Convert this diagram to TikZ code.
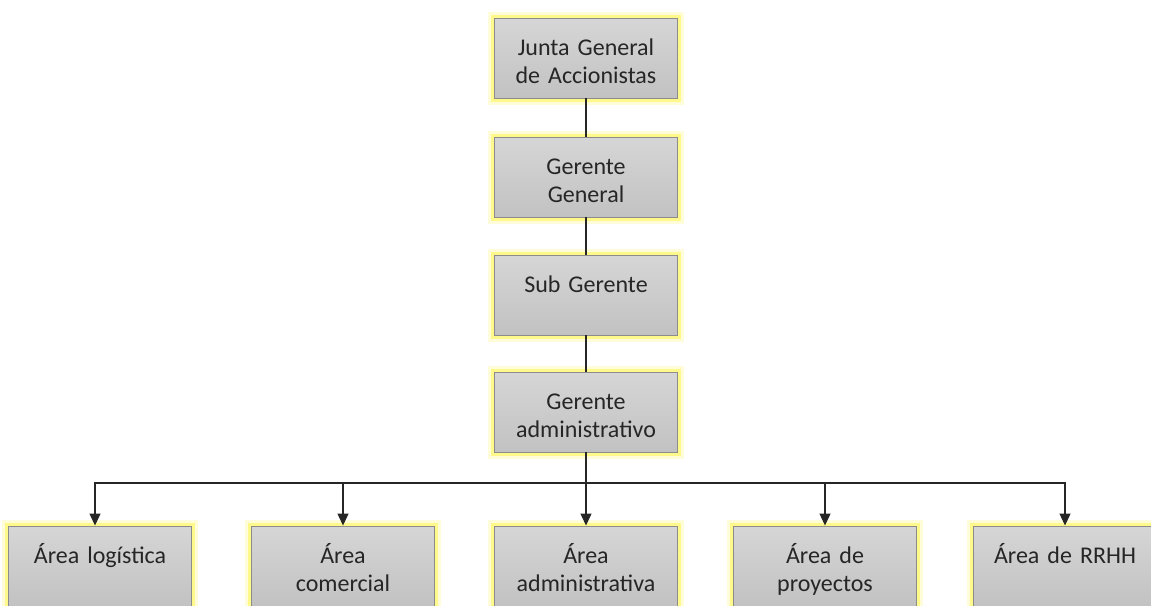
\documentclass[tikz,border=0pt]{standalone}
\usepackage{fontspec}
\setmainfont{Carlito}
\usepackage{tikz}
\usetikzlibrary{arrows.meta}
\usetikzlibrary{calc}

\definecolor{boxline}{HTML}{8C8C8C}
\definecolor{boxtop}{HTML}{D6D6D6}
\definecolor{boxbot}{HTML}{C2C2C2}
\definecolor{txtgray}{HTML}{262626}

\tikzset{
	orgbox/.style={draw=boxline, line width=0.9pt, top color=boxtop, bottom color=boxbot,
		minimum width=183pt, minimum height=80pt, inner sep=0pt,
		preaction={draw=yellow!15, line width=13pt},
		preaction={draw=yellow!45, line width=7pt}},
	lbl/.style={text width=180pt, align=center, anchor=base, inner sep=0pt, text=txtgray,
		font=\fontsize{24}{28}\selectfont},
	conn/.style={line width=1.1pt, black!85},
	arr/.style={conn, -{Triangle[width=11pt,length=12pt]}}
}

\begin{document}
\begin{tikzpicture}[x=1pt,y=-1pt]
		\useasboundingbox (0,0) rectangle (1151,605);
		
		% column of managers
		\node[orgbox] (junta) at (586,58) {};
		\node[orgbox] (gerente) at (586,177) {};
		\node[orgbox] (sub) at (586,295) {};
		\node[orgbox] (admin) at (586,412) {};
		
		\node[lbl] (juntaT) at ($(junta.north)+(0,38)$) {Junta General\\de Accionistas};
		\node[lbl] (gerenteT) at ($(gerente.north)+(0,38)$) {Gerente\\General};
		\node[lbl] (subT) at ($(sub.north)+(0,38)$) {Sub Gerente};
		\node[lbl] (adminT) at ($(admin.north)+(0,38)$) {Gerente\\administrativo};
		
		% areas
		\node[orgbox] (logis) at (100,566) {};
		\node[orgbox] (comer) at (343,566) {};
		\node[orgbox] (admarea) at (586,566) {};
		\node[orgbox] (proy) at (825,566) {};
		\node[orgbox] (rrhh) at (1065,566) {};
		
		\node[lbl] (logisT) at ($(logis.north)+(0,38)$) {Área logística};
		\node[lbl] (comerT) at ($(comer.north)+(0,38)$) {Área\\comercial};
		\node[lbl] (admareaT) at ($(admarea.north)+(0,38)$) {Área\\administrativa};
		\node[lbl] (proyT) at ($(proy.north)+(0,38)$) {Área de\\proyectos};
		\node[lbl] (rrhhT) at ($(rrhh.north)+(0,38)$) {Área de RRHH};
		
		% connectors
		\draw[conn] (junta) -- (gerente);
		\draw[conn] (gerente) -- (sub);
		\draw[conn] (sub) -- (admin);
		
		\coordinate (bus) at (586,483);
		\draw[arr] (admin) -- (admarea);
		\draw[arr] (bus) -| ([xshift=-5pt]logis.north);
		\draw[arr] (bus) -| (comer);
		\draw[arr] (bus) -| (proy);
		\draw[arr] (bus) -| (rrhh);
		
	\end{tikzpicture}
\end{document}
